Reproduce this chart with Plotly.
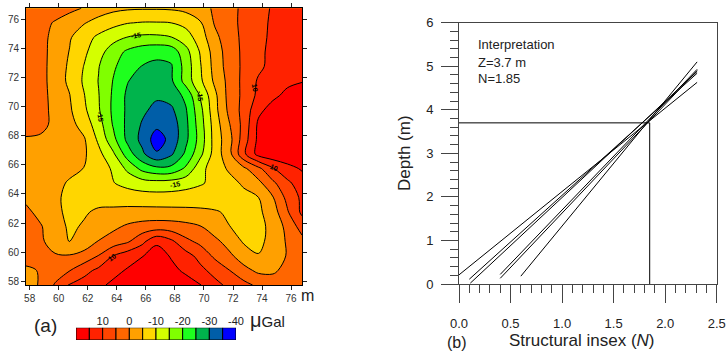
import plotly.graph_objects as go

# ---------------- (a) residual gravity anomaly map ----------------
grid_x_m = [57.75, 58.75, 59.75, 60.75, 61.75, 62.75, 63.75, 64.75, 65.75, 66.75,
            67.75, 68.75, 69.75, 70.75, 71.75, 72.75, 73.75, 74.75, 75.75, 76.75]
grid_y_m = [57.75, 58.75, 59.75, 60.75, 61.75, 62.75, 63.75, 64.75, 65.75, 66.75,
            67.75, 68.75, 69.75, 70.75, 71.75, 72.75, 73.75, 74.75, 75.75, 76.75]

# anomaly values (µGal), one row per grid_y_m value (south -> north)
anomaly_ugal = [
    [-1.2, 0.3, 5.5, 10.5, 12.2, 14.0, 16.0, 18.5, 20.5, 21.5, 20.0, 17.5, 15.2, 11.5, 8.8, 6.5, 4.0, 2.5, 2.5, 3.5],
    [-0.8, 0.3, 2.3, 4.8, 8.3, 11.2, 13.5, 15.5, 18.5, 20.5, 16.5, 14.0, 11.3, 8.3, 5.1, 1.5, -1.0, -0.8, 1.5, 2.8],
    [1.8, 1.4, 0.6, 0.4, 1.8, 5.2, 10.0, 12.8, 14.7, 17.5, 14.5, 12.0, 8.3, 4.0, 1.0, -2.5, -4.8, -3.0, 0.4, 2.5],
    [3.5, 1.0, -2.8, -5.3, -3.0, 0.2, 2.2, 4.3, 8.6, 14.0, 11.0, 6.2, 3.7, 1.2, -2.0, -5.6, -6.0, -3.6, 0.7, 3.5],
    [2.0, 0.4, -2.6, -5.8, -4.5, -2.4, -1.0, 0.8, 2.0, 2.5, 2.3, 1.5, 0.3, -2.6, -4.9, -7.0, -6.5, -3.5, 1.5, 7.0],
    [1.0, -1.3, -4.0, -6.0, -5.5, -4.2, -3.8, -3.4, -3.3, -3.3, -3.4, -3.6, -4.0, -4.6, -5.6, -6.5, -6.0, -2.3, 4.5, 11.0],
    [-0.9, -2.0, -4.3, -6.0, -6.5, -6.8, -7.2, -7.5, -7.8, -8.0, -8.0, -7.8, -7.5, -7.2, -6.8, -6.3, -5.1, -0.3, 6.5, 11.0],
    [-2.5, -2.8, -3.5, -5.6, -7.0, -8.2, -9.8, -11.5, -12.8, -13.2, -12.8, -11.8, -10.5, -8.8, -6.5, -4.3, -1.3, 4.0, 9.0, 12.5],
    [-2.4, -2.6, -3.0, -3.6, -5.1, -7.3, -10.7, -16.2, -21.5, -23.8, -23.6, -19.2, -11.7, -7.3, -4.3, -0.9, 3.8, 9.7, 13.2, 15.6],
    [-1.8, -2.0, -2.5, -3.2, -4.3, -8.6, -14.2, -22.5, -29.0, -34.4, -30.8, -24.0, -16.3, -7.9, -1.5, 9.0, 16.8, 18.5, 19.0, 18.5],
    [-0.6, -0.9, -1.8, -3.0, -4.5, -11.0, -18.5, -26.3, -31.4, -37.6, -33.3, -26.2, -17.9, -7.9, -1.7, 7.6, 16.2, 18.5, 19.2, 19.2],
    [2.5, 1.5, -1.3, -3.3, -7.0, -12.8, -20.4, -26.3, -30.5, -33.8, -33.0, -26.3, -17.3, -7.6, -0.3, 6.7, 16.0, 18.5, 19.5, 19.8],
    [2.8, 1.7, -1.4, -4.3, -9.0, -14.5, -21.0, -26.0, -29.0, -31.5, -31.0, -25.5, -16.5, -6.6, 1.3, 6.8, 13.8, 17.0, 18.5, 19.0],
    [2.8, 1.7, -1.7, -4.8, -9.8, -14.8, -20.8, -26.0, -28.0, -29.2, -28.0, -23.8, -14.6, -6.2, 1.9, 6.2, 11.2, 14.0, 16.2, 17.0],
    [2.7, 1.6, -2.0, -6.1, -10.7, -15.2, -20.2, -24.8, -27.2, -27.8, -25.8, -18.0, -11.0, -4.0, 1.6, 6.4, 10.6, 12.5, 14.0, 14.8],
    [2.7, 1.6, -2.0, -5.8, -10.2, -14.8, -19.3, -22.5, -25.2, -26.0, -25.5, -17.9, -10.4, -3.2, 2.3, 6.0, 9.0, 11.5, 13.0, 13.8],
    [2.6, 1.5, -1.7, -5.2, -9.0, -13.2, -17.5, -21.0, -23.0, -23.8, -23.0, -16.8, -9.6, -2.8, 2.5, 6.0, 8.9, 11.3, 12.8, 13.5],
    [2.5, 1.4, -1.3, -4.5, -8.0, -11.0, -13.3, -15.2, -16.0, -16.0, -15.2, -12.4, -7.5, -1.3, 2.9, 6.1, 8.6, 11.0, 12.6, 13.3],
    [2.5, 1.5, -0.4, -2.5, -4.7, -6.8, -8.5, -9.8, -10.3, -10.3, -10.0, -8.5, -5.5, 0.5, 3.4, 6.2, 8.5, 10.8, 12.3, 13.0],
    [3.0, 2.8, 2.2, 1.2, -0.3, -2.5, -3.8, -4.4, -4.6, -4.6, -4.4, -3.6, -1.8, 0.7, 3.5, 6.0, 8.3, 10.5, 12.0, 12.8],
]

contour_start, contour_end, contour_step = -35, 15, 5
# band colours from lowest (< -35) to highest (> 15)
band_colors = ["#0000FF", "#005EA8", "#00B44C", "#1EFF1E", "#80FF00", "#D4FF00",
               "#FFD600", "#FFA000", "#FF6600", "#FF4400", "#FF2200", "#FF0000"]
map_ticks = [58, 60, 62, 64, 66, 68, 70, 72, 74, 76]

# contour labels as printed on the map
contour_label_text = ["-15", "-15", "-15", "-15", "10", "10", "10"]
contour_label_x = [65.3, 62.85, 69.75, 68.0, 73.5, 74.8, 63.65]
contour_label_y = [74.85, 69.3, 70.7, 64.65, 71.3, 65.8, 59.65]
contour_label_angle = [-10, 80, 85, -12, 80, 20, -35]

# legend bar (µGal)
legend_band_centers = [17.5, 12.5, 7.5, 2.5, -2.5, -7.5, -12.5, -17.5, -22.5, -27.5, -32.5, -37.5]
legend_band_width = 5
legend_tick_vals = [10, 0, -10, -20, -30, -40]
legend_tick_text = ["10", "0", "-10", "-20", "-30", "-40"]

# ---------------- (b) Euler solutions ----------------
sol_N_start = [0.00, 0.10, 0.11, 0.40, 0.40, 0.60]
sol_Z_start = [0.21, 0.11, 0.02, 0.22, 0.13, 0.18]
sol_N_end = [2.31, 2.31, 2.31, 2.31, 2.31, 2.31]
sol_Z_end = [4.63, 4.84, 4.88, 4.93, 4.90, 5.10]
interp_N = 1.85
interp_Z = 3.7

FONT = "Arial, Liberation Sans, sans-serif"

fig = go.Figure()

n_bands = len(band_colors)
fig.add_trace(go.Contour(
    x=grid_x_m, y=grid_y_m, z=anomaly_ugal,
    xaxis="x", yaxis="y",
    colorscale=[[i / (n_bands - 1), c] for i, c in enumerate(band_colors)],
    contours=dict(start=contour_start, end=contour_end, size=contour_step,
                  coloring="fill", showlines=True),
    line=dict(color="black", width=1, smoothing=1.0),
    showscale=False, hoverinfo="skip",
))

fig.add_trace(go.Bar(
    x=legend_band_centers, y=[1] * len(legend_band_centers), width=legend_band_width,
    marker=dict(color=band_colors[::-1], line=dict(color="black", width=1)),
    xaxis="x3", yaxis="y3", showlegend=False, hoverinfo="skip",
))

for n0, z0, n1, z1 in zip(sol_N_start, sol_Z_start, sol_N_end, sol_Z_end):
    fig.add_trace(go.Scatter(x=[n0, n1], y=[z0, z1], mode="lines",
                             line=dict(color="black", width=1),
                             xaxis="x2", yaxis="y2", showlegend=False, hoverinfo="skip"))

fig.add_trace(go.Scatter(x=[0, interp_N, interp_N], y=[interp_Z, interp_Z, 0], mode="lines",
                         line=dict(color="black", width=1),
                         xaxis="x2", yaxis="y2", showlegend=False, hoverinfo="skip"))

W, H = 728, 352
def px(x): return x / W
def py(y): return 1 - y / H

map_axis = dict(range=[57.75, 76.75], tickvals=map_ticks, ticks="outside", ticklen=4,
                tickcolor="#222", mirror="ticks", showline=True, linecolor="black",
                linewidth=1, showgrid=False, zeroline=False, automargin=False,
                tickfont=dict(family=FONT, size=10, color="#333"))

axis_b = dict(showline=True, mirror=True, linecolor="#444", linewidth=1, showgrid=False,
              zeroline=False, ticks="outside", tickcolor="#444", automargin=False,
              tickfont=dict(family=FONT, size=13, color="#222"))

def note(text, x, y, size, xanchor="center", angle=0, ref="paper"):
    return dict(text=text, x=x, y=y, xref=ref if ref == "paper" else "x",
                yref=ref if ref == "paper" else "y", xanchor=xanchor, yanchor="middle",
                showarrow=False, textangle=angle,
                font=dict(family=FONT, size=size, color="#222" if ref == "paper" else "black"))

annotations = []
for t, xx, yy, a in zip(contour_label_text, contour_label_x, contour_label_y, contour_label_angle):
    annotations.append(note("<b>" + t + "</b>", xx, yy, 7, angle=a, ref="data"))

annotations += [
    note("m", px(307), py(295), 16),
    note("(a)", px(45), py(325), 19),
    note("<span style='font-size:20px'>μ</span>Gal", px(267), py(320), 15),
    note("Interpretation", px(476), py(45), 13, xanchor="left"),
    note(f"Z={interp_Z} m", px(476), py(62), 13, xanchor="left"),
    note(f"N={interp_N}", px(476), py(79), 13, xanchor="left"),
    note("Depth (m)", px(405), py(153), 17, angle=-90),
    note("Structural insex (<i>N</i>)", px(582), py(340), 17),
    note("(b)", px(457), py(342), 16),
]

fig.update_layout(
    width=W, height=H, autosize=False,
    margin=dict(l=0, r=0, t=0, b=0, pad=0, autoexpand=False),
    paper_bgcolor="white", plot_bgcolor="white",
    showlegend=False, bargap=0,
    xaxis=dict(domain=[px(26), px(302)], anchor="y", **map_axis),
    yaxis=dict(domain=[py(285), py(8.3)], anchor="x", **map_axis),
    xaxis2=dict(domain=[px(459), px(716.7)], anchor="y2", range=[0, 2.5], dtick=0.5,
                tickformat=".1f", ticklen=18, ticklabelstandoff=9,
                minor=dict(dtick=0.1, ticks="outside", ticklen=8, tickcolor="#444"),
                **axis_b),
    yaxis2=dict(domain=[py(284), py(22.7)], anchor="x2", range=[0, 6], dtick=1,
                ticklen=17, ticklabelstandoff=5,
                minor=dict(dtick=0.2, ticks="outside", ticklen=8, tickcolor="#444"),
                **axis_b),
    xaxis3=dict(domain=[px(76), px(236)], anchor="y3", range=[20, -40], side="top",
                tickvals=legend_tick_vals, ticktext=legend_tick_text, ticks="",
                showline=False, showgrid=False, zeroline=False, automargin=False,
                tickfont=dict(family=FONT, size=11, color="#222")),
    yaxis3=dict(domain=[py(340), py(327.7)], anchor="x3", range=[0, 1], visible=False),
    annotations=annotations,
)

fig.write_html("out.html",
               config={"displayModeBar": False, "staticPlot": True},
               post_script="document.body.style.margin='0';document.body.style.overflow='hidden';")
